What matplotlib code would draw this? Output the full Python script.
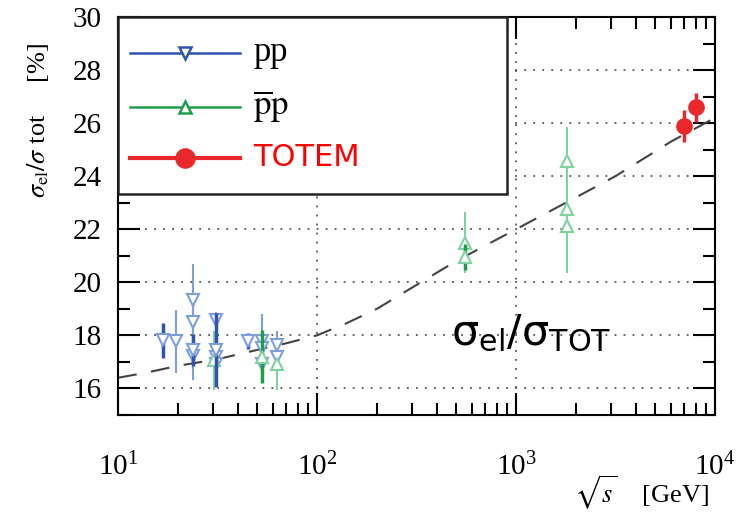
import matplotlib
matplotlib.use("Agg")
import matplotlib.pyplot as plt
from matplotlib.lines import Line2D
from matplotlib.patches import Rectangle
from matplotlib.ticker import LogLocator, MultipleLocator

plt.rcParams.update({"font.family": ["Liberation Serif", "DejaVu Serif"], "mathtext.fontset": "stix",
                     "font.size": 21, "axes.linewidth": 1.5})

C_PP = "#2f55b0"; C_PP_L = "#7f9fdc"
C_PB = "#1e9e4a"; C_PB_L = "#7fd3a0"
C_RED = "#e8282b"

# pp data: sqrt(s) [GeV], ratio [%], error
pp_x = [16.8, 23.7, 31.0, 44.9]
pp_y = [17.81, 17.45, 17.44, 17.77]
pp_e = [0.65, 0.6, 1.4, 0.3]
pp2_x = [19.5, 23.7, 23.7, 23.7, 31.0, 31.0, 31.0, 52.7, 52.7, 52.7, 62.6, 62.6]
pp2_y = [17.77, 19.34, 18.49, 17.21, 18.56, 17.19, 16.90, 17.77, 17.53, 16.90, 17.65, 17.19]
pp2_e = [1.2, 1.35, 0.8, 0.9, 0.3, 0.3, 0.3, 1.05, 0.3, 0.7, 0.5, 0.7]
# pbar-p
pb_x = [52.7, 555]
pb_y = [17.20, 20.96]
pb_e = [1.0, 0.5]
pb2_x = [30.2, 62.6, 555, 1800, 1800, 1800]
pb2_y = [17.05, 16.90, 21.49, 24.59, 22.78, 22.11]
pb2_e = [1.1, 0.95, 1.15, 1.25, 0.5, 1.75]
# TOTEM
tot_x = [7000, 8000]
tot_y = [25.9, 26.6]
tot_e = [0.6, 0.55]
# fit curve
fit_x = [10, 14, 20, 31.6, 50, 70, 100, 140, 200, 316, 500, 1000, 2000, 3160, 6000, 10000]
fit_y = [16.4, 16.6, 16.85, 17.1, 17.45, 17.7, 18.0, 18.45, 19.0, 19.9, 20.8, 22.0, 23.2, 24.0, 25.3, 26.2]

fig = plt.figure(figsize=(7.39, 5.16), dpi=100)
ax = fig.add_axes([0.160, 0.196, 0.8075, 0.771])
ax.set_xscale("log")
ax.set_xlim(10, 1e4); ax.set_ylim(15, 30)
ax.yaxis.set_major_locator(MultipleLocator(2)); ax.yaxis.set_minor_locator(MultipleLocator(1))
ax.set_yticks(range(16, 31, 2))
ax.xaxis.set_minor_locator(LogLocator(base=10, subs=range(2, 10)))
ax.tick_params(which="both", direction="in", top=True, right=True, width=1.5)
ax.tick_params(which="major", length=16)
ax.tick_params(which="minor", length=8.5)
ax.tick_params(axis="y", pad=12)
ax.tick_params(axis="x", pad=27)
ax.grid(True, which="major", color="#555555", linestyle=(0, (1, 4)), linewidth=1.3)

ax.plot(fit_x, fit_y, color="#444444", lw=1.5, dashes=(9, 7), zorder=2)

mk = dict(markersize=9, markerfacecolor="white", markeredgewidth=1.5, linestyle="none", capsize=0)
ax.errorbar(pp2_x, pp2_y, yerr=pp2_e, fmt="v", color=C_PP_L, ecolor=C_PP_L, elinewidth=1.5, zorder=3, **mk)
ax.errorbar(pb2_x, pb2_y, yerr=pb2_e, fmt="^", color=C_PB_L, ecolor=C_PB_L, elinewidth=1.5, zorder=3, **mk)
ax.errorbar(pb_x, pb_y, yerr=pb_e, fmt="^", color=C_PB_L, ecolor=C_PB, elinewidth=2.5, zorder=4, **mk)
ax.errorbar(pp_x, pp_y, yerr=pp_e, fmt="v", color=C_PP_L, ecolor=C_PP, elinewidth=2.5, zorder=4, **mk)
ax.errorbar(tot_x, tot_y, yerr=tot_e, fmt="o", color=C_RED, markersize=11, elinewidth=2.5, capsize=0, zorder=5)

# legend box
T = ax.transAxes
ax.add_patch(Rectangle((0, 0.555), 0.652, 0.445, transform=T, facecolor="white", edgecolor="#222222",
                       lw=1.8, zorder=10, clip_on=False))
rows = [(0.91, C_PP, "v", "white", "pp", {}),
        (0.774, C_PB, "^", "white", r"$\overline{\rm p}{\rm p}$", {}),
        (0.646, C_RED, "o", C_RED, "TOTEM", {"family": "DejaVu Sans", "color": "#ff0000", "fontsize": 22})]
for yy, c, m, fc, lab, kw in rows:
    ax.add_line(Line2D([0.02, 0.204], [yy, yy], transform=T, color=c, lw=1.8 if m != "o" else 3, zorder=11))
    ax.add_line(Line2D([0.112], [yy], transform=T, marker=m, markersize=9 if m != "o" else 13,
                       markerfacecolor=fc, markeredgecolor=c, markeredgewidth=1.8, zorder=12))
    ax.text(0.226, yy, lab, transform=T, va="center", ha="left", zorder=12, **({"fontsize": 25} | kw))

ax.text(0.692, 0.176, r"σ$_{\mathregular{el}}$/σ$_{\mathregular{TOT}}$", transform=T, ha="center",
        va="baseline", fontsize=31, family="DejaVu Sans", math_fontfamily="dejavusans", color="black", zorder=6)
ax.text(-0.134, 0.74, r"$\sigma_{\rm el}/\sigma$ tot     [%]", transform=T, rotation=90,
        ha="center", va="center", fontsize=19)
ax.text(0.99, -0.243, r"$\sqrt{s}$    [GeV]", transform=T, ha="right", va="bottom", fontsize=19)

fig.savefig("out.png", dpi=100, facecolor="white")
